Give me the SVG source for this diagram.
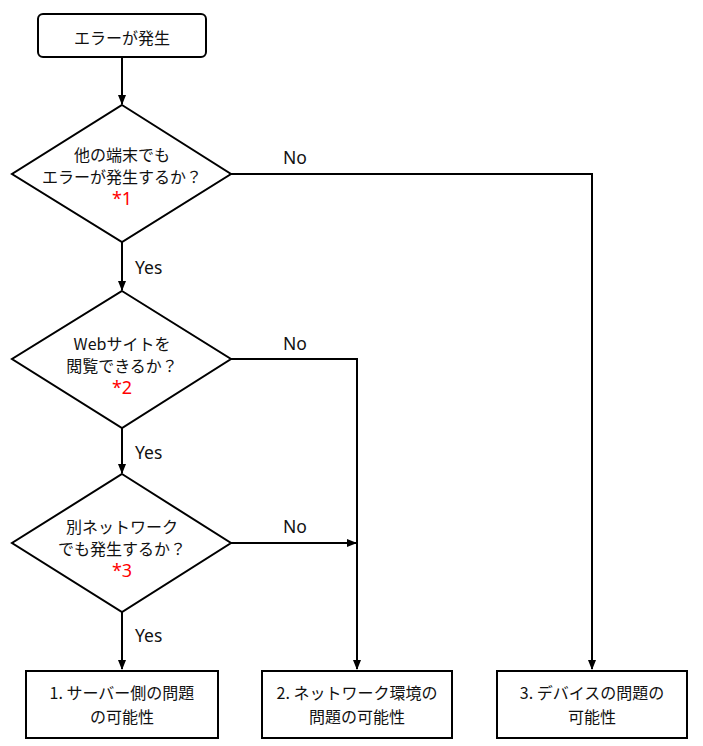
<svg xmlns="http://www.w3.org/2000/svg" width="703" height="746" viewBox="0 0 703 746">
<style>
.n{fill:#fff;stroke:#000;stroke-width:2}
.t{font-family:"Meiryo UI","Noto Sans CJK JP","Noto Sans",sans-serif;font-size:16px;fill:#111;text-anchor:middle}
.r{fill:#ff0000;font-family:"Noto Sans",sans-serif;font-size:18px}
.l{font-family:"Noto Sans","Liberation Sans",sans-serif;font-size:17.5px;fill:#111}
.c{fill:none;stroke:#000;stroke-width:2}
</style>
<defs>
<marker id="a" markerWidth="10" markerHeight="10" refX="9" refY="5" orient="auto" markerUnits="userSpaceOnUse">
<path d="M0,1 L10,5 L0,9 Z" fill="#000"/>
</marker>
</defs>
<rect width="703" height="746" fill="#fff"/>
<g id="connectors">
<path class="c" d="M122,57 V104" marker-end="url(#a)"/>
<path class="c" d="M122,242 V290" marker-end="url(#a)"/>
<path class="c" d="M122,428 V473" marker-end="url(#a)"/>
<path class="c" d="M122,612 V669" marker-end="url(#a)"/>
<path class="c" d="M231,174 H592 V669" marker-end="url(#a)"/>
<path class="c" d="M231,359 H357 V669" marker-end="url(#a)"/>
<path class="c" d="M231,543 H356" marker-end="url(#a)"/>
<text class="l" x="135" y="274">Yes</text>
<text class="l" x="135" y="459">Yes</text>
<text class="l" x="135" y="642">Yes</text>
<text class="l" x="283" y="164">No</text>
<text class="l" x="283" y="350">No</text>
<text class="l" x="283" y="533">No</text>
</g>
<g id="start">
<rect class="n" x="38" y="14" width="168" height="43" rx="5"/>
<text class="t" x="122" y="44">エラーが発生</text>
</g>
<g id="q1">
<polygon class="n" points="122,105 231,174 122,242 12,174"/>
<text class="t" x="122" y="161">他の端末でも</text>
<text class="t" x="122" y="183">エラーが発生するか？</text>
<text class="t r" x="122" y="205">*1</text>
</g>
<g id="q2">
<polygon class="n" points="122,291 231,359 122,428 12,359"/>
<text class="t" x="122" y="350">Webサイトを</text>
<text class="t" x="122" y="372">閲覧できるか？</text>
<text class="t r" x="122" y="394">*2</text>
</g>
<g id="q3">
<polygon class="n" points="122,474 231,543 122,612 12,543"/>
<text class="t" x="122" y="533">別ネットワーク</text>
<text class="t" x="122" y="555">でも発生するか？</text>
<text class="t r" x="122" y="577">*3</text>
</g>
<g id="r1">
<rect class="n" x="26" y="671" width="192" height="67"/>
<text class="t" x="122" y="699">1. サーバー側の問題</text>
<text class="t" x="122" y="723">の可能性</text>
</g>
<g id="r2">
<rect class="n" x="262" y="671" width="190" height="67"/>
<text class="t" x="357" y="699">2. ネットワーク環境の</text>
<text class="t" x="357" y="723">問題の可能性</text>
</g>
<g id="r3">
<rect class="n" x="497" y="671" width="190" height="67"/>
<text class="t" x="592" y="699">3. デバイスの問題の</text>
<text class="t" x="592" y="723">可能性</text>
</g>
</svg>
